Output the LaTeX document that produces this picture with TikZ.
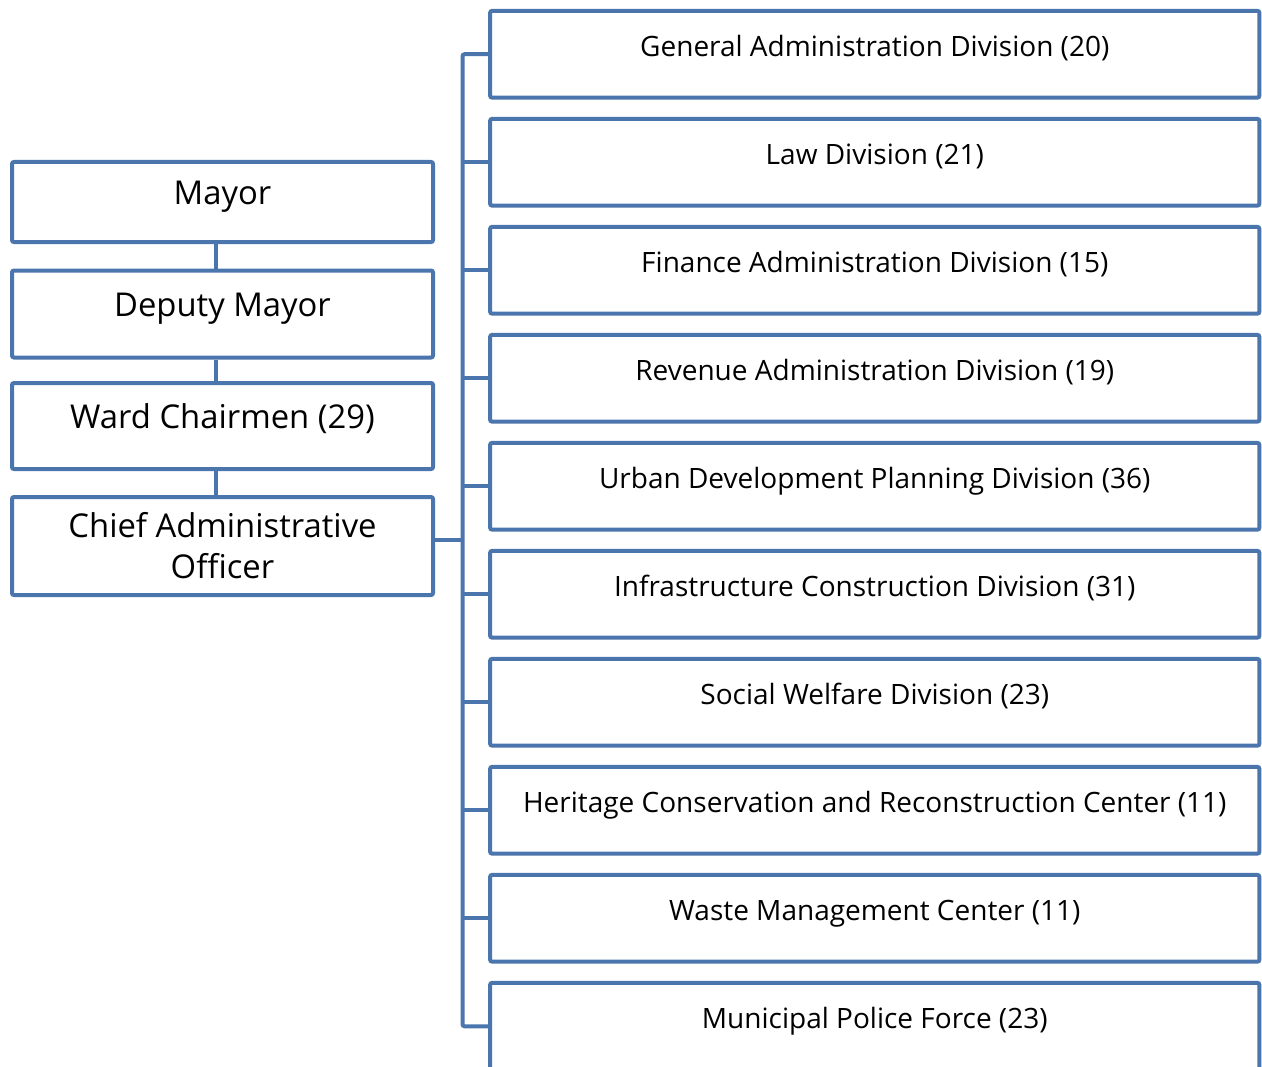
\documentclass[tikz,border=0pt]{standalone}
\usepackage{fontspec}
\setmainfont{Open Sans}
\usetikzlibrary{positioning}
\definecolor{orgblue}{RGB}{74,117,173}
\tikzset{
  box/.style={draw=orgblue, line width=3pt, rounded corners=1.5pt, align=center, inner sep=0pt},
  leftbox/.style={box, minimum width=315.75pt, text height=0.8em, text depth=0.45em, font=\fontsize{24.6}{29}\selectfont},
  chiefbox/.style={box, minimum width=315.75pt, minimum height=73.5pt, font=\fontsize{24.6}{30.75}\selectfont},
  divbox/.style={box, minimum width=577pt, minimum height=65pt, text height=0.8em, text depth=0.5em, font=\fontsize{21}{25}\selectfont},
  link/.style={draw=orgblue, line width=3pt, rounded corners=1.5pt}
}
\begin{document}
\begin{tikzpicture}[x=0.75pt, y=-0.75pt]
  \useasboundingbox (0,0) rectangle (1262,1066);
  % Linke Spalte
  \node[leftbox, minimum height=60pt] (mayor) at (222.5,202) {Mayor};
  \node[leftbox, minimum height=65.25pt] (deputy) at (222.5,314) {Deputy Mayor};
  \node[leftbox, minimum height=64.5pt] (ward) at (222.5,426) {Ward Chairmen (29)};
  \node[chiefbox] (cao) at (222.5,546) {Chief Administrative\\Officer};
  % Abteilungen
  \node[divbox] (d1) at (874.75,54.25) {General Administration Division (20)};
  \node[divbox] (d2) at (874.75,162.25) {Law Division (21)};
  \node[divbox] (d3) at (874.75,270.25) {Finance Administration Division (15)};
  \node[divbox] (d4) at (874.75,378.25) {Revenue Administration Division (19)};
  \node[divbox] (d5) at (874.75,486.25) {Urban Development Planning Division (36)};
  \node[divbox] (d6) at (874.75,594.25) {Infrastructure Construction Division (31)};
  \node[divbox] (d7) at (874.75,702.25) {Social Welfare Division (23)};
  \node[divbox] (d8) at (874.75,810.25) {Heritage Conservation and Reconstruction Center (11)};
  \node[divbox] (d9) at (874.75,918.25) {Waste Management Center (11)};
  \node[divbox] (d10) at (874.75,1026.25) {Municipal Police Force (23)};
  % Verbindungen
  \coordinate (trunk) at (462.5,0);
  \draw[link] ([xshift=-5.25pt]mayor.south) -- ([xshift=-5.25pt]deputy.north);
  \draw[link] ([xshift=-5.25pt]deputy.south) -- ([xshift=-5.25pt]ward.north);
  \draw[link] ([xshift=-5.25pt]ward.south) -- ([xshift=-5.25pt]cao.north);
  \draw[link] ([yshift=4.5pt]cao.east) -- ([yshift=4.5pt]cao.east -| trunk);
  \draw[link] (d1.west) -- (d1.west -| trunk) -- (d10.west -| trunk) -- (d10.west);
  \foreach \i in {2,...,9}
    \draw[link] (d\i.west) -- (d\i.west -| trunk);
\end{tikzpicture}
\end{document}
